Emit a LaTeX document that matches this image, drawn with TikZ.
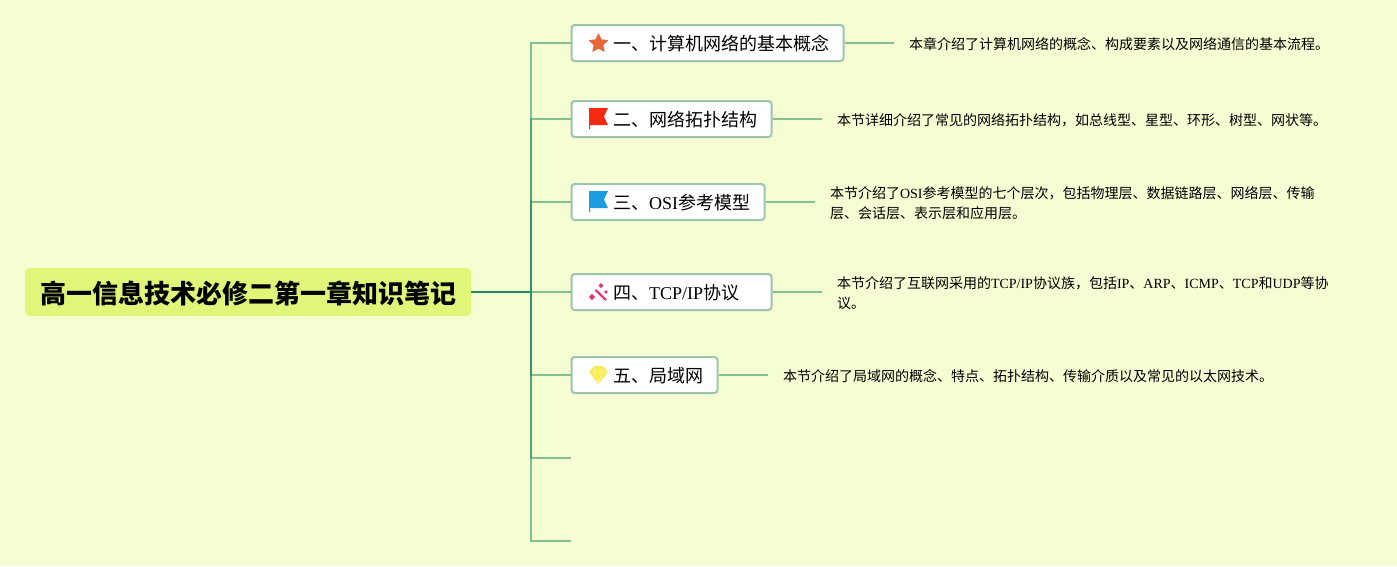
\documentclass[tikz,border=0pt]{standalone}
\usepackage{fontspec}
\setmainfont{Liberation Serif}
\newfontfamily\cjk{Noto Sans CJK SC}
\newcommand{\zh}[1]{{\cjk #1}}
\newcommand{\lbl}[1]{\hspace*{41.5pt}\raisebox{-1pt}[\height][\depth]{#1}}
\usetikzlibrary{shapes.geometric}
\definecolor{bgc}{HTML}{F5FED2}
\definecolor{rootc}{HTML}{E0F678}
\definecolor{linkc}{HTML}{1F8A5E}
\definecolor{boxc}{HTML}{9CC5B0}
\definecolor{starc}{HTML}{E4683A}
\definecolor{redc}{HTML}{F52A10}
\definecolor{bluec}{HTML}{1B9CE0}
\definecolor{pinkc}{HTML}{E6336E}
\definecolor{gemc}{HTML}{F8EC50}
\definecolor{gemlc}{HTML}{FBF5A0}
\tikzset{
  x=1pt,y=-1pt,
  rootbox/.style={fill=rootc,rounded corners=4pt,inner sep=0pt,minimum width=446pt,minimum height=48pt,font=\fontsize{26}{30}\selectfont\cjk\bfseries},
  branch/.style={draw=boxc,line width=2pt,fill=white,rounded corners=3pt,anchor=west,inner xsep=0pt,inner ysep=0pt,minimum height=36pt,align=left,font=\fontsize{18}{22}\selectfont},
  detail/.style={anchor=west,inner xsep=15pt,inner ysep=0pt,outer sep=0pt,align=left,font=\fontsize{14}{20}\selectfont},
  link/.style={draw=linkc,line width=2pt,opacity=0.53},
}
\begin{document}
\begin{tikzpicture}
\useasboundingbox[fill=bgc] (0,0) rectangle (1397,566);
\node[rootbox] (root) at (248,292) {\hspace*{1pt}\raisebox{-1pt}[\height][\depth]{高一信息技术必修二第一章知识笔记}};
\coordinate (trunk) at (531,292);
\node[branch,text width=272pt] (b1) at (570.5,43) {\lbl{\zh{一、计算机网络的基本概念}}};
\node[branch,text width=200pt] (b2) at (570.5,119) {\lbl{\zh{二、网络拓扑结构}}};
\node[branch,text width=193pt] (b3) at (570.5,202) {\lbl{\zh{三、}OSI\zh{参考模型}}};
\node[branch,text width=200pt] (b4) at (570.5,292) {\lbl{\zh{四、}TCP/IP\zh{协议}}};
\node[branch,text width=146pt] (b5) at (570.5,375) {\lbl{\zh{五、局域网}}};
\coordinate (e6) at (571,458);
\coordinate (e7) at (571,541);
\node[detail] (d1) at (894,44.5) {\zh{本章介绍了计算机网络的概念、构成要素以及网络通信的基本流程。}};
\node[detail] (d2) at (822,120.5) {\zh{本节详细介绍了常见的网络拓扑结构，如总线型、星型、环形、树型、网状等。}};
\node[detail] (d3) at (815,203.5) {\zh{本节介绍了}OSI\zh{参考模型的七个层次，包括物理层、数据链路层、网络层、传输}\\\zh{层、会话层、表示层和应用层。}};
\node[detail] (d4) at (822,293.5) {\zh{本节介绍了互联网采用的}TCP/IP\zh{协议族，包括}IP\zh{、}ARP\zh{、}ICMP\zh{、}TCP\zh{和}UDP\zh{等协}\\\zh{议。}};
\node[detail] (d5) at (768,376.5) {\zh{本节介绍了局域网的概念、特点、拓扑结构、传输介质以及常见的以太网技术。}};
% connectors from the root: their translucent strokes build up along the shared trunk
\foreach \t in {b1,b2,b3,b4,b5,e6,e7}{
  \draw[link] (root.east) -- (trunk) |- (\t.west);
}
\draw[link] (b1.east) -- (b1.east -| d1.west);
\draw[link] (b2.east) -- (b2.east -| d2.west);
\draw[link] (b3.east) -- (b3.east -| d3.west);
\draw[link] (b4.east) -- (b4.east -| d4.west);
\draw[link] (b5.east) -- (b5.east -| d5.west);
% icons
\node[star,star points=5,star point ratio=2.1,fill=starc,draw=starc,line width=1pt,line join=round,minimum size=19pt,inner sep=0pt] at (598.5,43.5) {};
\fill[redc] (589,108) -- (608,108) -- (604,116.5) -- (608,125) -- (590,125) -- (590,129) -- (589,129) -- cycle;
\fill[bluec] (589,191) -- (608,191) -- (604,199.5) -- (608,208) -- (590,208) -- (590,212) -- (589,212) -- cycle;
\draw[line width=2.2pt,draw=pinkc] (595.5,290) -- (606,300);
\foreach \cx/\cy/\r in {601/285.5/2.5,592/297/3.2,606/292/1.8}{
  \fill[pinkc] (\cx-\r,\cy) -- (\cx,\cy-\r) -- (\cx+\r,\cy) -- (\cx,\cy+\r) -- cycle;
}
\fill[gemc] (594,366) -- (603,366) -- (608,372) -- (598.5,384) -- (589,372) -- cycle;
\draw[gemlc,line width=0.7pt] (589.5,372) -- (607.5,372) (594,367) -- (595,372) -- (598.5,383) -- (602,372) -- (603,367);
\end{tikzpicture}
\end{document}
